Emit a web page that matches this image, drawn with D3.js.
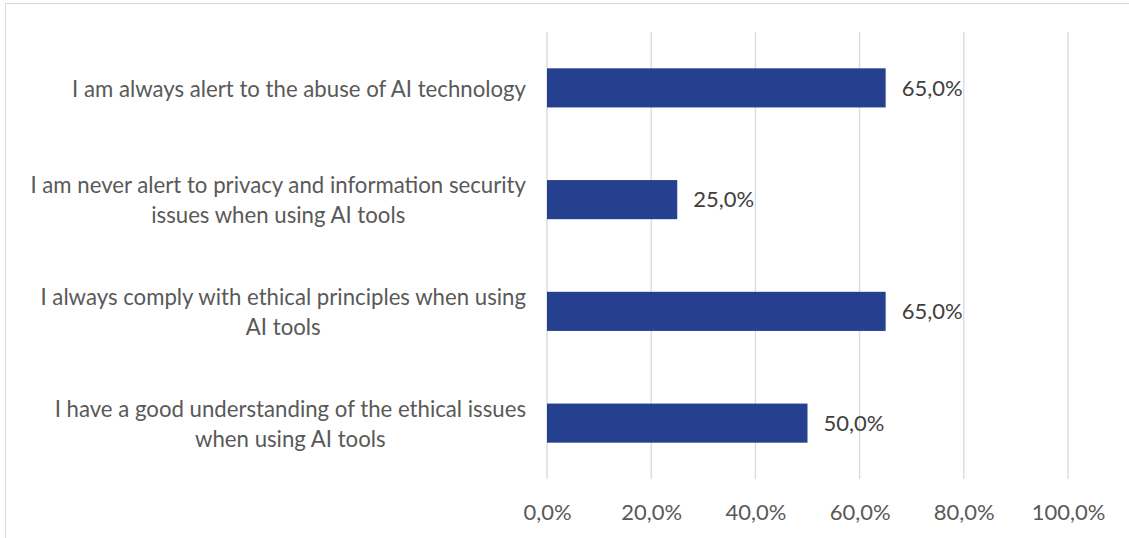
<!DOCTYPE html>
<html>
<head>
<meta charset="utf-8">
<script src="https://cdn.jsdelivr.net/npm/d3@7"></script>
<style>
  body { margin: 0; background: #fff; }
  svg { display: block; }
</style>
</head>
<body>
<div id="chart"></div>
<script>
// data (top to bottom), line breaks as in the original labels
const categories = [
    "I am always alert to the abuse of AI technology",
    "I am never alert to privacy and information security\nissues when using AI tools",
    "I always comply with ethical principles when using\nAI tools",
    "I have a good understanding of the ethical issues\nwhen using AI tools"
];
const values = [65, 25, 65, 50];
const tickValues = [0, 20, 40, 60, 80, 100];

const W = 1129, H = 538;
const margin = { top: 32, right: 61, bottom: 59, left: 547 };
const width = W - margin.left - margin.right,
    height = H - margin.top - margin.bottom;

const fmt = v => d3.format(".1f")(v).replace(".", ",") + "%";
const font = "Lato, 'Open Sans', sans-serif";

const svg = d3.select("#chart").append("svg")
    .attr("width", W)
    .attr("height", H);

// chart border (only top and left visible in the frame)
svg.append("rect")
    .attr("x", 5.5).attr("y", 3.5)
    .attr("width", W + 10).attr("height", H + 10)
    .attr("fill", "none")
    .attr("stroke", "#d9d9d9");

const g = svg.append("g")
    .attr("transform", `translate(${margin.left},${margin.top})`);

const x = d3.scaleLinear().domain([0, 100]).range([0, width]);
const y = d3.scaleBand().domain(categories).range([0, height]).paddingInner(0.65).paddingOuter(0.325);

// gridlines
g.selectAll(".grid")
    .data(tickValues)
    .join("line")
    .attr("class", "grid")
    .attr("x1", d => x(d)).attr("x2", d => x(d))
    .attr("y1", 0).attr("y2", height)
    .attr("stroke", "#d9d9d9")
    .attr("stroke-width", 1.3);

// x axis labels
const xAxis = g.append("g")
    .attr("transform", `translate(0,${height})`)
    .call(d3.axisBottom(x).tickValues(tickValues).tickFormat(fmt).tickSize(0).tickPadding(25));
xAxis.select(".domain").remove();
xAxis.selectAll("text")
    .attr("fill", "#595959")
    .style("font-family", font)
    .style("font-size", "22px");

// bars
g.selectAll(".bar")
    .data(values)
    .join("rect")
    .attr("class", "bar")
    .attr("x", x(0))
    .attr("y", (d, i) => y(categories[i]))
    .attr("width", d => x(d) - x(0))
    .attr("height", y.bandwidth())
    .attr("fill", "#25408f");

// value labels
g.selectAll(".val")
    .data(values)
    .join("text")
    .attr("class", "val")
    .attr("x", d => x(d) + 16)
    .attr("y", (d, i) => y(categories[i]) + y.bandwidth() / 2)
    .attr("dy", "0.35em")
    .attr("fill", "#404040")
    .style("font-family", font)
    .style("font-size", "22px")
    .text(fmt);

// category labels: lines centred on each other, block right-aligned
const lineH = 30;
categories.forEach((c, i) => {
    const lines = c.split("\n");
    const t = g.append("text")
        .attr("fill", "#595959")
        .style("font-family", font)
        .style("font-size", "22.2px")
        .attr("text-anchor", "middle");
    const cy = y(c) + y.bandwidth() / 2 + 1;
    const spans = t.selectAll("tspan")
        .data(lines)
        .join("tspan")
        .attr("y", (d, j) => cy + (j - (lines.length - 1) / 2) * lineH)
        .attr("dy", "0.35em")
        .text(d => d);
    let maxW = 0;
    spans.each(function () { maxW = Math.max(maxW, this.getComputedTextLength()); });
    spans.attr("x", -21 - maxW / 2);
});
</script>
</body>
</html>
